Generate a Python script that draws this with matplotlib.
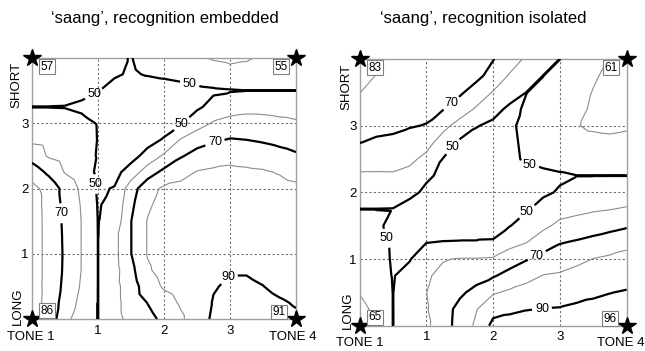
import matplotlib
matplotlib.use("Agg")
import matplotlib.pyplot as plt
from matplotlib.tri import Triangulation
import numpy as np

plt.rcParams['font.family'] = ['Liberation Sans', 'DejaVu Sans']

# ---------------- data ----------------
titles = ["\u2018saang\u2019, recognition embedded", "\u2018saang\u2019, recognition isolated"]
grid_pos = [0, 0.25, 0.5, 0.75, 1.0, 1.25, 1.5, 1.75, 2.0, 2.25, 2.5, 2.75, 3.0, 3.25, 3.5, 3.75, 4.0]
tick_vals = [1, 2, 3]
tick_labels = ['1', '2', '3']
x_end_labels = ['TONE 1', 'TONE 4']
y_end_labels = ['LONG', 'SHORT']
thick_levels = [50, 70, 90]
thin_levels = [60, 80]

# recognition percentages, rows = y from 0 (LONG) to 4 (SHORT), columns = x from 0 (TONE 1) to 4 (TONE 4)
embedded = [
    [86, 75, 64.5, 52, 49.9, 57, 62.8, 67, 72.2, 78.3, 85.5, 91.5, 92.5, 93, 92.5, 92, 91],
    [86, 75.7, 66.5, 57, 49.9, 57, 64.5, 70.2, 75.7, 81.1, 85.8, 90.5, 92, 92.5, 92, 90.7, 89.5],
    [85.5, 76.3, 67.9, 58.9, 49.9, 57, 65.3, 75.1, 81.2, 84, 86.5, 89.5, 91, 91, 90.1, 88.5, 87.5],
    [85.5, 76.6, 68.6, 59.8, 49.9, 56.6, 67.3, 78.8, 83.5, 85.5, 87, 88.5, 89.5, 89.5, 88.5, 87.5, 86.5],
    [85.5, 76.6, 68.8, 59.8, 49.9, 57, 69.8, 80.5, 84, 85.5, 86.5, 87.5, 88, 88, 87.5, 87, 86],
    [85.5, 76.6, 68.6, 59.8, 49.9, 57, 69.8, 80.5, 84.5, 86, 87, 87.5, 88, 88, 87.5, 87, 86],
    [85.5, 76.5, 68.3, 59.8, 49.8, 53.5, 69.8, 80.5, 84.5, 86, 87, 87.5, 87.5, 87.5, 87, 86.5, 86],
    [85, 76.4, 67.7, 59.3, 49.5, 52, 68, 78.3, 84, 85, 85.5, 86, 86, 86, 85.5, 85, 84.5],
    [83, 76.5, 66.7, 58.2, 48.8, 50.5, 65.5, 76.5, 81.5, 82.5, 83.3, 84, 84.5, 84.5, 84, 83, 82],
    [75.7, 68.1, 59.4, 54.5, 48.5, 47, 54.4, 65.2, 72.6, 76.9, 80.5, 81.5, 82, 81.6, 81, 79.4, 77],
    [65.7, 59, 56, 53, 49.5, 46, 46.5, 53.3, 61.5, 69, 73.4, 75.9, 77.4, 76.4, 75.1, 73.2, 71.2],
    [58, 57, 55.5, 53, 49.8, 46, 45, 46.5, 50.8, 60.4, 66, 68.6, 70.5, 69.9, 68.8, 67.4, 66],
    [52.8, 52.5, 52.3, 51.5, 49.7, 45, 44, 44, 45.5, 49.2, 55.6, 61, 63, 63.5, 63, 62, 61],
    [49.9, 49.9, 49.8, 49, 47, 45, 43.5, 43, 43.5, 45, 48.5, 52.8, 56, 57.3, 57.3, 56.8, 56.6],
    [53.5, 53, 52.5, 51.5, 50.3, 47.5, 45.5, 45.5, 46, 47, 48, 48.8, 49.4, 49.9, 49.9, 49.9, 49.9],
    [55.5, 55, 54, 53, 52, 50.8, 49.2, 50.5, 51.5, 52.5, 54, 56, 57.5, 57.5, 56.5, 55, 54],
    [57, 56, 55, 53.5, 52, 50.8, 49.8, 52, 54, 56.5, 59, 60.7, 61.5, 60.7, 59, 57, 55],
]

isolated = [
    [65, 59.5, 49.9, 52.5, 57.9, 66.5, 73, 82, 92.5, 93, 93.3, 93.6, 94, 94.4, 94.8, 95.3, 96],
    [62.5, 58, 49.9, 53.2, 59.3, 66, 72.7, 79.5, 86.9, 88.6, 89.7, 90.2, 90.5, 91.5, 92, 92.7, 93.3],
    [59.6, 55.5, 49.9, 53.7, 59.9, 64.2, 68.3, 72.8, 79, 81.5, 83.7, 84.9, 85.8, 87.4, 88.8, 89.8, 90.6],
    [57.5, 54, 49.6, 52.7, 59, 62, 64.5, 66.4, 69, 73.5, 77, 80.3, 81.1, 83, 84.7, 86, 86.9],
    [55.5, 53.5, 49.2, 49.5, 55.5, 59.5, 60.5, 60.5, 61, 65, 69.3, 72.9, 75.5, 77.8, 80.2, 81.6, 82.9],
    [53.5, 52, 49, 47.5, 49.8, 50.4, 50.6, 50.6, 50.7, 56.9, 59.8, 65.5, 69.4, 71, 72.9, 75, 77.5],
    [53, 51.5, 48, 46.5, 45.5, 45, 45, 45.5, 47, 49.7, 53.6, 57.9, 62.3, 63.8, 65.4, 67, 68.8],
    [49.9, 49.9, 49.8, 47, 45, 44, 43.5, 43.5, 44.5, 46.5, 49.2, 52.7, 56.2, 57.6, 58.9, 59.7, 60.8],
    [54.3, 54.7, 54.5, 52, 48.5, 46, 44.5, 44, 44.5, 45.5, 47, 48.8, 50.7, 52.7, 54.5, 55, 55.1],
    [58.8, 58.8, 58.9, 57.1, 51.2, 48.5, 46, 45, 44.5, 45, 46.5, 48, 49, 49.9, 49.9, 49.9, 49.9],
    [64.2, 63.8, 63.7, 62.1, 57.6, 49.7, 47, 45.5, 45, 47.5, 51.5, 52.5, 53.5, 53.8, 54, 54, 54],
    [70.2, 69, 68.5, 66.9, 63.4, 55.8, 48.5, 46.5, 46, 48, 52, 54, 55.5, 57.9, 58.2, 58.5, 57.8],
    [73.3, 72, 71.5, 70.5, 69.7, 62.8, 56.4, 50.5, 48, 48.5, 52.5, 54.5, 56.5, 59.7, 61, 61.5, 61],
    [76.7, 75.5, 74.5, 73.5, 72, 70.5, 65, 58.9, 53.3, 48, 51, 53.5, 56, 58.6, 60.8, 62, 62],
    [80.1, 78.6, 77.3, 76, 74.5, 73, 71.5, 65.8, 59.4, 54.4, 49.9, 51.5, 54.5, 57.5, 60.3, 62.3, 62.5],
    [81.5, 79.9, 79.2, 78.7, 78, 77, 75.5, 72.5, 66.5, 59, 54.5, 49.9, 53, 56, 59.2, 61.5, 62],
    [83, 80.3, 78.7, 77.3, 75.9, 74.6, 73.2, 71.8, 70.4, 65, 58.4, 53.4, 49.9, 54, 57, 60.3, 61],
]

# corner endpoint positions and their measured scores (top-left, top-right, bottom-left, bottom-right)
corner_x = [0, 4, 0, 4]
corner_y = [4, 4, 0, 0]
embedded_corners = [57, 55, 86, 91]
isolated_corners = [83, 61, 65, 96]

# ---------------- layout ----------------
W, H = 645, 351
fig = plt.figure(figsize=(W / 100, H / 100), dpi=100)


def fx(px):
    return px / W


def fy(py):
    return 1 - py / H


# triangulated measurement grid (each cell split along its SW-NE diagonal)
n = len(grid_pos)
gx, gy = np.meshgrid(grid_pos, grid_pos)
tris = []
for j in range(n - 1):
    for i in range(n - 1):
        sw = j * n + i
        tris.append([sw, sw + 1, sw + n + 1])
        tris.append([sw, sw + n + 1, sw + n])
tri = Triangulation(gx.ravel(), gy.ravel(), tris)

panels = [
    dict(data=embedded, corners=embedded_corners, box=(32, 58, 296, 319),
         title_xy=(165, 18),
         labels=[(0.95, 3.42), (2.39, 3.61), (2.27, 2.99), (2.77, 2.71),
                 (0.97, 2.07), (0.44, 1.62), (2.92, 0.70)],
         xpad=4.5, ypad=2.5,
         short_xy=(16.5, 84.5), long_xy=(17.5, 306), tone_y=337, tone_x=(31, 293)),
    dict(data=isolated, corners=isolated_corners, box=(359.5, 59, 626.7, 325.7),
         title_xy=(483, 18),
         labels=[(1.38, 3.33), (1.38, 2.70), (2.53, 2.35), (2.53, 1.68),
                 (0.46, 1.33), (2.65, 1.06), (2.73, 0.26)],
         xpad=3.5, ypad=2.0,
         short_xy=(346, 86.5), long_xy=(348, 310), tone_y=343, tone_x=(360, 621)),
]

box_offsets = [(11.0, -6.2), (-11.0, -6.2), (11.0, 6.0), (-12.0, 5.0)]

for p, title in zip(panels, titles):
    x0, y0, x1, y1 = p['box']
    ax = fig.add_axes([fx(x0), fy(y1), (x1 - x0) / W, (y1 - y0) / H])
    Z = np.array(p['data']).ravel()
    ax.tricontour(tri, Z, levels=thin_levels, colors='#8c8c8c',
                  linewidths=0.8, zorder=2)
    cs = ax.tricontour(tri, Z, levels=thick_levels, colors='black',
                       linewidths=1.6, zorder=3)
    txts = ax.clabel(cs, levels=thick_levels, inline=True, fmt='%d', fontsize=9,
                     manual=p['labels'], inline_spacing=3)
    for t in txts:
        t.set_rotation(0)

    ax.set_xlim(0, 4)
    ax.set_ylim(0, 4)
    ax.set_xticks(tick_vals)
    ax.set_xticklabels(tick_labels)
    ax.set_yticks(tick_vals)
    ax.set_yticklabels(tick_labels)
    ax.tick_params(axis='x', length=0, labelsize=9.5, pad=p['xpad'])
    ax.tick_params(axis='y', length=0, labelsize=9.5, pad=p['ypad'])
    ax.grid(True, color='#707070', linestyle=(0, (2, 2)), linewidth=0.8)
    for s in ax.spines.values():
        s.set_color('#a0a0a0')
        s.set_linewidth(1.0)

    # stars at the four corners
    ax.plot(corner_x, corner_y, linestyle='none', marker='*', color='black',
            markersize=13, clip_on=False, zorder=6)
    # boxed corner scores
    for cx, cy, val, off in zip(corner_x, corner_y, p['corners'], box_offsets):
        ax.annotate(str(val), xy=(cx, cy), xytext=off, textcoords='offset points',
                    ha='center', va='center', fontsize=8.5, zorder=7,
                    bbox=dict(boxstyle='square,pad=0.12', fc='white', ec='#808080', lw=0.8))

    fig.text(fx(p['title_xy'][0]), fy(p['title_xy'][1]), title, ha='center', va='center',
             fontsize=12)
    fig.text(fx(p['short_xy'][0]), fy(p['short_xy'][1]), y_end_labels[1], rotation=90,
             ha='center', va='center', fontsize=9.5)
    fig.text(fx(p['long_xy'][0]), fy(p['long_xy'][1]), y_end_labels[0], rotation=90,
             ha='center', va='center', fontsize=9.5)
    fig.text(fx(p['tone_x'][0]), fy(p['tone_y']), x_end_labels[0], ha='center', va='center',
             fontsize=9.5)
    fig.text(fx(p['tone_x'][1]), fy(p['tone_y']), x_end_labels[1], ha='center', va='center',
             fontsize=9.5)

fig.savefig('out.png', dpi=100, facecolor='white')
